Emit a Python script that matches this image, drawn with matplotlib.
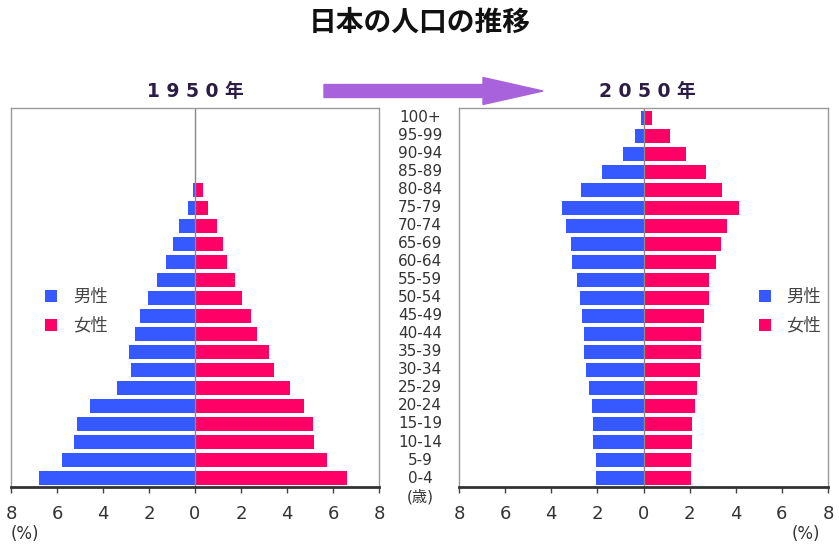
import matplotlib.pyplot as plt
import numpy as np
from matplotlib.patches import FancyArrow
from matplotlib.transforms import blended_transform_factory

plt.rcParams['font.family'] = ['DejaVu Sans', 'Noto Sans CJK JP']

ages = ['0-4', '5-9', '10-14', '15-19', '20-24', '25-29', '30-34', '35-39',
        '40-44', '45-49', '50-54', '55-59', '60-64', '65-69', '70-74',
        '75-79', '80-84', '85-89', '90-94', '95-99', '100+']

# 1950 (% of total population)
male_1950 = [6.78, 5.79, 5.28, 5.15, 4.55, 3.37, 2.79, 2.85, 2.59, 2.40, 2.05,
             1.67, 1.28, 0.96, 0.70, 0.31, 0.10, 0, 0, 0, 0]
female_1950 = [6.63, 5.72, 5.19, 5.13, 4.74, 4.15, 3.43, 3.23, 2.70, 2.44, 2.05,
               1.73, 1.40, 1.21, 0.95, 0.55, 0.35, 0, 0, 0, 0]

# 2050 (% of total population)
male_2050 = [2.04, 2.04, 2.17, 2.17, 2.24, 2.37, 2.49, 2.56, 2.56, 2.67, 2.76,
             2.89, 3.08, 3.15, 3.34, 3.54, 2.69, 1.78, 0.87, 0.35, 0.09]
female_2050 = [2.05, 2.05, 2.12, 2.12, 2.25, 2.31, 2.44, 2.51, 2.51, 2.64, 2.83,
               2.83, 3.16, 3.35, 3.61, 4.13, 3.42, 2.70, 1.86, 1.14, 0.36]

blue = '#3658ff'
pink = '#ff0066'
ticks = [-8, -6, -4, -2, 0, 2, 4, 6, 8]

fig = plt.figure(figsize=(8.39, 5.49), dpi=100)
ax1 = fig.add_axes([0.0131, 0.1129, 0.4386, 0.6904])
ax2 = fig.add_axes([0.5471, 0.1129, 0.4398, 0.6904])

y = np.arange(len(ages))
for ax, m, f in [(ax1, male_1950, female_1950), (ax2, male_2050, female_2050)]:
    ax.barh(y, -np.array(m), height=0.82, color=blue, label='男性')
    ax.barh(y, f, height=0.82, color=pink, label='女性')
    ax.axvline(0, color='#888888', lw=1)
    ax.set_xlim(-8, 8)
    ax.set_ylim(-0.5, 20.55)
    ax.set_yticks([])
    ax.set_xticks(ticks)
    ax.set_xticklabels([str(abs(t)) for t in ticks])
    ax.tick_params(axis='x', direction='out', length=4, width=1, color='#444444',
                   labelsize=13, labelcolor='#333333', pad=9)
    for s in ['top', 'left', 'right']:
        ax.spines[s].set_color('#999999')
        ax.spines[s].set_linewidth(1)
    ax.spines['bottom'].set_color('#333333')
    ax.spines['bottom'].set_linewidth(2)

ax1.legend(loc='center left', bbox_to_anchor=(0.05, 0.463), frameon=False,
           fontsize=12.5, handlelength=0.7, handleheight=0.7, handletextpad=0.9,
           labelspacing=0.6, labelcolor='#444444')
ax2.legend(loc='center left', bbox_to_anchor=(0.77, 0.463), frameon=False,
           fontsize=12.5, handlelength=0.7, handleheight=0.7, handletextpad=0.9,
           labelspacing=0.6, labelcolor='#444444')

# age labels in the middle
trans = blended_transform_factory(fig.transFigure, ax1.transData)
for i, a in enumerate(ages):
    ax1.text(0.5006, i, a, transform=trans, ha='center', va='center',
             fontsize=11, color='#333333', clip_on=False)
fig.text(0.5006, 0.095, '(歳)', ha='center', va='center', fontsize=11, color='#333333')

fig.text(0.03, 0.028, '(%)', ha='center', va='center', fontsize=12, color='#333333')
fig.text(0.96, 0.028, '(%)', ha='center', va='center', fontsize=12, color='#333333')

fig.text(0.5, 0.958, '日本の人口の推移', ha='center', va='center',
         fontsize=20, fontweight='bold', color='#111111')
fig.text(0.2325, 0.833, '1 9 5 0 年', ha='center', va='center',
         fontsize=13.5, fontweight='bold', color='#2b1d45')
fig.text(0.7715, 0.833, '2 0 5 0 年', ha='center', va='center',
         fontsize=13.5, fontweight='bold', color='#2b1d45')

arrow = FancyArrow(3.24, 4.58, 2.19, 0, width=0.13, head_width=0.27,
                   head_length=0.6, length_includes_head=True,
                   color='#a862dc', transform=fig.dpi_scale_trans)
fig.add_artist(arrow)

fig.savefig('out.png', dpi=100)
